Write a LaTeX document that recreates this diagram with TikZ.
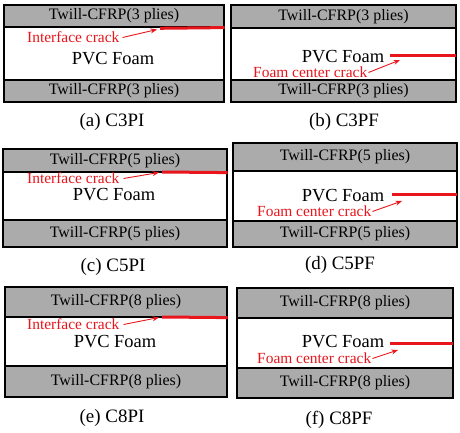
\documentclass[tikz,border=0pt]{standalone}
\usepackage{fontspec}
\setmainfont{Liberation Serif}
\usetikzlibrary{arrows.meta}
\definecolor{layergray}{RGB}{171,171,171}
\definecolor{crackred}{RGB}{232,22,28}
\tikzset{
  layer/.style={draw=black, line width=1.2bp, fill=layergray, inner sep=0pt, font=\fontsize{16}{16}\selectfont},
  foam/.style={draw=black, line width=1.2bp, fill=white, inner sep=0pt},
  foamtext/.style={inner sep=0pt, font=\fontsize{18.5}{18.5}\selectfont},
  cracklab/.style={inner sep=0pt, text=crackred, font=\fontsize{15.5}{15.5}\selectfont},
  crackline/.style={draw=crackred, line width=3bp},
  crackarrow/.style={draw=crackred, line width=0.9bp, -{Stealth[length=6.5bp,width=5bp]}},
  caption/.style={inner sep=0pt, font=\fontsize{19}{19}\selectfont}
}
\begin{document}
\begin{tikzpicture}[x=1bp,y=-1bp]
\useasboundingbox (0,0) rectangle (460,433);
% ---------- (a) C3PI ----------
\node[foam, minimum width=220bp, minimum height=53bp] (a-foam) at (114,53.5) {};
\node[layer, minimum width=220bp, minimum height=22bp] (a-top) at (114,16) {Twill-CFRP(3 plies)};
\node[layer, minimum width=220bp, minimum height=22bp] (a-bot) at (114,91) {Twill-CFRP(3 plies)};
\node[foamtext] (a-pvc) at (113,59) {PVC Foam};
\coordinate (a-tip) at (160,28.3);
\draw[crackline] (a-tip) -- (a-top.south east);
\node[cracklab, anchor=west] (a-lab) at (27,37.5) {Interface crack};
\coordinate (a-head) at (157,29.5);
\draw[crackarrow] (a-lab.east) ++(3,0) -- (a-head);
\node[caption] (a-cap) at (112,122) {(a) C3PI};
% ---------- (b) C3PF ----------
\node[foam, minimum width=225bp, minimum height=52bp] (b-foam) at (343.5,54) {};
\node[layer, minimum width=225bp, minimum height=23bp] (b-top) at (343.5,16.5) {Twill-CFRP(3 plies)};
\node[layer, minimum width=225bp, minimum height=22bp] (b-bot) at (343.5,91) {Twill-CFRP(3 plies)};
\node[foamtext] (b-pvc) at (343,57) {PVC Foam};
\coordinate (b-tip) at (390,55.5);
\coordinate (b-end) at (456,55.5);
\draw[crackline] (b-tip) -- (b-end);
\node[cracklab, anchor=west] (b-lab) at (253,72.5) {Foam center crack};
\coordinate (b-head) at (400,60);
\draw[crackarrow] (b-lab.east) ++(1,0) -- (b-head);
\node[caption] (b-cap) at (344,122) {(b) C3PF};
% ---------- (c) C5PI ----------
\node[foam, minimum width=224bp, minimum height=48bp] (c-foam) at (115,196) {};
\node[layer, minimum width=224bp, minimum height=23bp] (c-top) at (115,160.5) {Twill-CFRP(5 plies)};
\node[layer, minimum width=224bp, minimum height=27bp] (c-bot) at (115,233.5) {Twill-CFRP(5 plies)};
\node[foamtext] (c-pvc) at (114,195) {PVC Foam};
\coordinate (c-tip) at (162,172);
\draw[crackline] (c-tip) -- (c-top.south east);
\node[cracklab, anchor=west] (c-lab) at (27,178.5) {Interface crack};
\coordinate (c-head) at (159,172.5);
\draw[crackarrow] (c-lab.east) ++(4,0) -- (c-head);
\node[caption] (c-cap) at (113,267) {(c) C5PI};
% ---------- (d) C5PF ----------
\node[foam, minimum width=224bp, minimum height=50bp] (d-foam) at (345,196) {};
\node[layer, minimum width=224bp, minimum height=28bp] (d-top) at (345,157) {Twill-CFRP(5 plies)};
\node[layer, minimum width=224bp, minimum height=26bp] (d-bot) at (345,234) {Twill-CFRP(5 plies)};
\node[foamtext] (d-pvc) at (343,196) {PVC Foam};
\coordinate (d-tip) at (392,195);
\coordinate (d-end) at (457,195);
\draw[crackline] (d-tip) -- (d-end);
\node[cracklab, anchor=west] (d-lab) at (257,211.5) {Foam center crack};
\coordinate (d-head) at (402,201);
\draw[crackarrow] (d-lab.east) ++(1,0) -- (d-head);
\node[caption] (d-cap) at (340,265) {(d) C5PF};
% ---------- (e) C8PI ----------
\node[foam, minimum width=222bp, minimum height=49bp] (e-foam) at (116,341.5) {};
\node[layer, minimum width=222bp, minimum height=30bp] (e-top) at (116,302) {Twill-CFRP(8 plies)};
\node[layer, minimum width=222bp, minimum height=31bp] (e-bot) at (116,381.5) {Twill-CFRP(8 plies)};
\node[foamtext] (e-pvc) at (115,342) {PVC Foam};
\coordinate (e-tip) at (162,317);
\draw[crackline] (e-tip) -- (e-top.south east);
\node[cracklab, anchor=west] (e-lab) at (27,324.5) {Interface crack};
\coordinate (e-head) at (159,317.5);
\draw[crackarrow] (e-lab.east) ++(4,0) -- (e-head);
\node[caption] (e-cap) at (112,418) {(e) C8PI};
% ---------- (f) C8PF ----------
\node[foam, minimum width=216bp, minimum height=50bp] (f-foam) at (345,343) {};
\node[layer, minimum width=216bp, minimum height=30bp] (f-top) at (345,303) {Twill-CFRP(8 plies)};
\node[layer, minimum width=216bp, minimum height=30bp] (f-bot) at (345,383) {Twill-CFRP(8 plies)};
\node[foamtext] (f-pvc) at (343,342) {PVC Foam};
\coordinate (f-tip) at (390,343);
\coordinate (f-end) at (453,343);
\draw[crackline] (f-tip) -- (f-end);
\node[cracklab, anchor=west] (f-lab) at (257,358.5) {Foam center crack};
\coordinate (f-head) at (398,350);
\draw[crackarrow] (f-lab.east) ++(1,0) -- (f-head);
\node[caption] (f-cap) at (339,420) {(f) C8PF};
\end{tikzpicture}
\end{document}
